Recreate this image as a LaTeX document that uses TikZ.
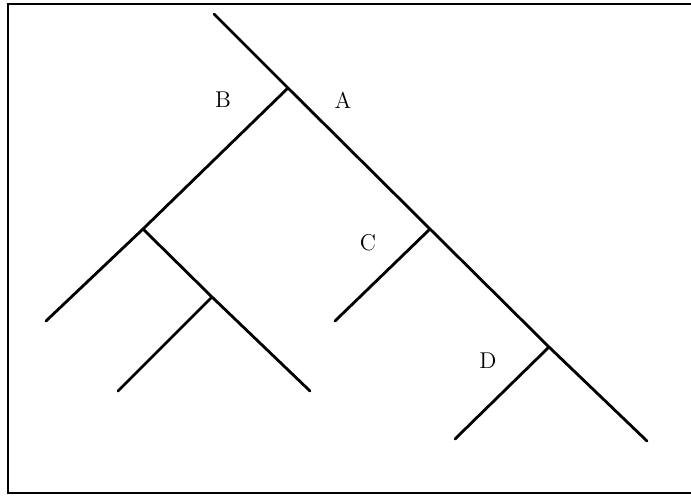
\documentclass[tikz,border=0pt]{standalone}
\usetikzlibrary{positioning}
\tikzset{
  branch/.style={line width=1.6pt, line cap=round},
  frame/.style ={line width=1.1pt},
  lbl/.style   ={font=\fontsize{13}{15}\selectfont, inner sep=0pt},
}
\begin{document}
\begin{tikzpicture}[x=0.02cm, y=-0.02cm]
  \useasboundingbox (0,0) rectangle (691,495);
  % frame, open on the right
  \coordinate (ftr) at (691,4);
  \coordinate (ftl) at (8,4);
  \coordinate (fbl) at (8,493);
  \coordinate (fbr) at (691,493);
  \draw[frame] (ftr) -- (ftl) -- (fbl) -- (fbr);
  % main line with its junctions
  \coordinate (top) at (214,14);
  \coordinate (jA)  at (288,88);
  \coordinate (jC)  at (430,229);
  \coordinate (jD)  at (549,347);
  \coordinate (bot) at (647,441);
  % left subtree
  \coordinate (jB)  at (143,229);
  \coordinate (jE)  at (212,297);
  \coordinate (l1)  at (46,321);
  \coordinate (l2)  at (310,391);
  \coordinate (l3)  at (118,391);
  % leaves of C and D
  \coordinate (l4)  at (335,321);
  \coordinate (l5)  at (455,439);
  \draw[branch] (top) -- (jA) -- (jC) -- (jD) -- (bot);
  \draw[branch] (jA) -- (jB) -- (l1);
  \draw[branch] (jB) -- (jE) -- (l2);
  \draw[branch] (jE) -- (l3);
  \draw[branch] (jC) -- (l4);
  \draw[branch] (jD) -- (l5);
  % labels
  \node[lbl] (labB) at (223,100) {B};
  \node[lbl] (labA) at (343,100) {A};
  \node[lbl] (labC) at (368,243) {C};
  \node[lbl] (labD) at (488,361) {D};
\end{tikzpicture}
\end{document}
